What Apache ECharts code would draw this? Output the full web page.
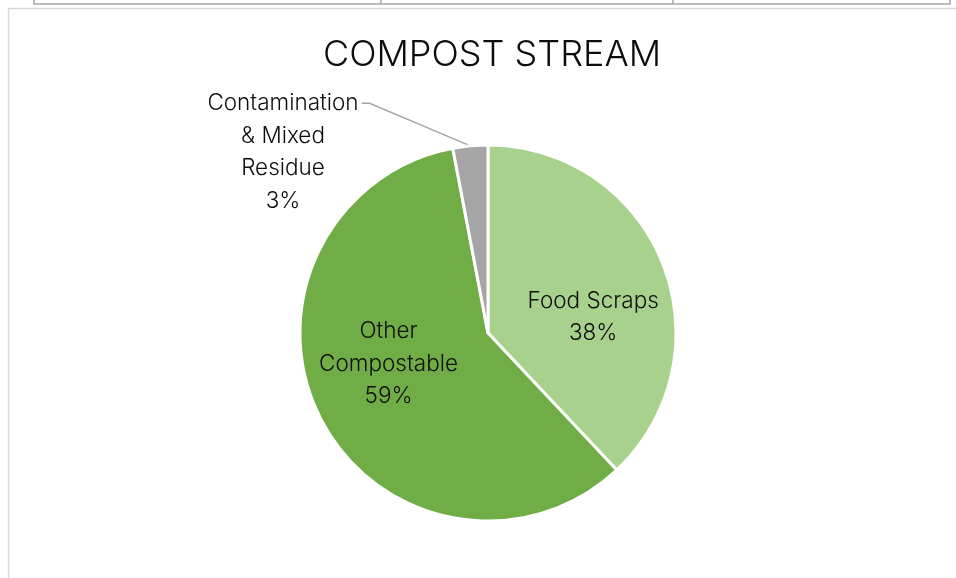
<!DOCTYPE html>
<html>
<head>
<meta charset="utf-8">
<script src="https://cdn.jsdelivr.net/npm/echarts@6/dist/echarts.min.js"></script>
<style>
  html, body { margin: 0; padding: 0; background: #ffffff; }
  #chart { width: 956px; height: 578px; }
</style>
</head>
<body>
<div id="chart"></div>
<script>
// Compost stream composition (share of total, %)
const categories = ['Food Scraps', 'Other\nCompostable', 'Contamination\n& Mixed\nResidue'];
const shares = [38, 59, 3];
const sliceColors = ['#A9D18E', '#70AD47', '#A5A5A5'];
const chartTitle = 'COMPOST STREAM';

const fontFamily = 'Inter, "Open Sans", sans-serif';
const labelLineHeight = 32.5;

const chart = echarts.init(document.getElementById('chart'), null, { renderer: 'canvas' });

// label placement per slice: inside labels nudged, the small slice's label sits up-left
const labelPlacement = [
  { dx: 15, dy: 20 },
  { dx: -13, dy: -13 },
  { x: 283, y: 152, align: 'center', verticalAlign: 'middle' }
];

chart.setOption({
  backgroundColor: '#ffffff',
  animation: false,
  title: {
    text: chartTitle,
    left: 487,
    textAlign: 'center',
    top: 32,
    textStyle: { fontFamily, fontSize: 36, fontWeight: 300, color: '#0d0d0d' }
  },
  graphic: [
    // fragment of the table above the chart
    { type: 'polyline', shape: { points: [[34, 0], [34, 4], [950, 4], [950, 0]] },
      style: { stroke: '#a6a6a6', lineWidth: 1.5, fill: null } },
    { type: 'line', shape: { x1: 381, y1: 0, x2: 381, y2: 4 }, style: { stroke: '#a6a6a6', lineWidth: 1.5 } },
    { type: 'line', shape: { x1: 673, y1: 0, x2: 673, y2: 4 }, style: { stroke: '#a6a6a6', lineWidth: 1.5 } },
    // chart area frame
    { type: 'polyline', shape: { points: [[8.5, 578], [8.5, 8.5], [956, 8.5]] },
      style: { stroke: '#d9d9d9', lineWidth: 1.5, fill: null } }
  ],
  series: [{
    type: 'pie',
    center: [488, 333],
    radius: 188,
    startAngle: 90,
    clockwise: true,
    avoidLabelOverlap: false,
    itemStyle: { borderColor: '#ffffff', borderWidth: 3 },
    label: {
      show: true,
      position: 'inside',
      formatter: '{b}\n{d}%',
      fontFamily,
      fontSize: 22.5,
      fontWeight: 300,
      lineHeight: labelLineHeight,
      color: '#0d0d0d'
    },
    labelLayout: function (params) {
      const place = Object.assign({}, labelPlacement[params.dataIndex]);
      if (place.x !== undefined && params.labelLinePoints) {
        // leader from the slice edge to the right end of the label's first line
        const w = params.labelRect.width;
        const h = params.labelRect.height;
        const right = place.x + w / 2;
        const firstLineY = place.y - h / 2 + labelLineHeight / 2;
        place.labelLinePoints = [
          params.labelLinePoints[0],
          [right + 11, firstLineY],
          [right + 3, firstLineY]
        ];
      }
      return place;
    },
    data: categories.map((name, i) => {
      const item = { name, value: shares[i], itemStyle: { color: sliceColors[i] } };
      if (i === 2) {
        item.label = { position: 'outside' };
        item.labelLine = { show: true, length: 20, length2: 10, lineStyle: { color: '#a6a6a6', width: 1.5 } };
      }
      return item;
    })
  }]
});
</script>
</body>
</html>
